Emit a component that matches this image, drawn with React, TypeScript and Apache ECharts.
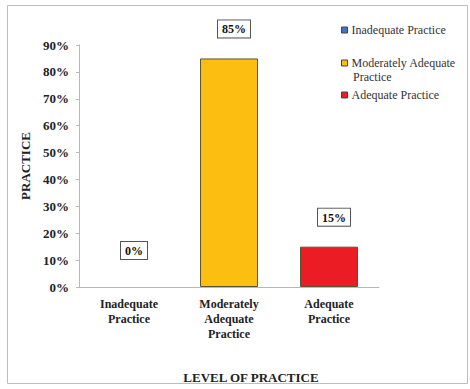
import React, { useEffect, useRef } from "react";
import * as echarts from "echarts";

const categories = ["Inadequate\nPractice", "Moderately\nAdequate\nPractice", "Adequate\nPractice"];
const seriesNames = ["Inadequate Practice", "Moderately Adequate Practice", "Adequate Practice"];
const inadequate = [0, "-", "-"];
const moderate = ["-", 85, "-"];
const adequate = ["-", "-", 15];
const colors = ["#4472C4", "#FDBE12", "#EC1C24"];
const yTicks = { min: 0, max: 90, interval: 10 };

const FONT = "Liberation Serif";

export default function App() {
  const ref = useRef<HTMLDivElement>(null);
  useEffect(() => {
    if (!ref.current) return;
    const chart = echarts.init(ref.current, null, { renderer: "svg" });
    const label = (distance: number) => ({
      show: true,
      position: "top",
      distance,
      offset: [5, 0],
      formatter: "{c}%",
      fontFamily: FONT,
      fontWeight: "bold",
      fontSize: 12,
      color: "#111",
      backgroundColor: "#fff",
      borderColor: "#555",
      borderWidth: 1,
      padding: [3, 4, 2, 4],
    });
    const datasets = [inadequate, moderate, adequate];
    const series = datasets.map((d, i) => ({
      name: seriesNames[i],
      type: "bar",
      stack: "all",
      barWidth: 58,
      data: d,
      itemStyle: { color: colors[i], borderColor: "#5b5433", borderWidth: i === 0 ? 0 : 1 },
      label: label(i === 0 ? 28 : 21),
    }));
    const legendTops = [24, 57, 89];
    chart.setOption({
      animation: false,
      backgroundColor: "#fff",
      grid: { left: 79, right: 91, top: 45, bottom: 99 },
      legend: seriesNames.map((n, i) => ({
        data: [n],
        orient: "vertical",
        left: 341,
        top: legendTops[i],
        padding: 0,
        itemWidth: 6,
        itemHeight: 6,
        icon: "rect",
        itemStyle: { borderColor: "#444", borderWidth: 1 },
        selectedMode: false,
        formatter: (name: string) => (name === "Moderately Adequate Practice" ? "Moderately Adequate" : name),
        textStyle: { fontFamily: FONT, fontSize: 12, color: "#333", padding: [0, 0, 0, -1] },
      })),
      xAxis: {
        type: "category",
        data: categories,
        name: "LEVEL OF PRACTICE",
        nameLocation: "middle",
        nameGap: 84,
        nameTextStyle: {
          fontFamily: FONT,
          fontWeight: "bold",
          fontSize: 13,
          color: "#222",
          padding: [0, 0, 0, 44],
        },
        axisLine: { lineStyle: { color: "#b8b8b8" } },
        axisTick: { show: false },
        axisLabel: {
          interval: 0,
          margin: 9,
          fontFamily: FONT,
          fontWeight: "bold",
          fontSize: 12,
          lineHeight: 15,
          color: "#222",
        },
      },
      yAxis: {
        type: "value",
        min: yTicks.min,
        max: yTicks.max,
        interval: yTicks.interval,
        name: "PRACTICE",
        nameLocation: "middle",
        nameRotate: 90,
        nameGap: 46,
        nameTextStyle: { fontFamily: FONT, fontWeight: "bold", fontSize: 13, color: "#222" },
        axisLine: { show: true, lineStyle: { color: "#b8b8b8" } },
        axisTick: { show: true, length: 3, lineStyle: { color: "#b8b8b8" } },
        splitLine: { show: false },
        axisLabel: {
          formatter: "{value}%",
          margin: 10,
          fontFamily: FONT,
          fontWeight: "bold",
          fontSize: 13,
          color: "#222",
        },
      },
      graphic: [
        {
          type: "rect",
          shape: { x: 7.5, y: 5.5, width: 460, height: 378 },
          style: { fill: "none", stroke: "#bdbdbd", lineWidth: 1 },
          silent: true,
        },
        {
          type: "text",
          x: 353,
          y: 77,
          style: {
            text: "Practice",
            fontFamily: FONT,
            fontSize: 12,
            fill: "#333",
            verticalAlign: "middle",
          },
        },
      ],
      series,
    });
    return () => chart.dispose();
  }, []);
  return (
    <div
      ref={ref}
      style={{ position: "absolute", left: 0, top: 0, width: 470, height: 389 }}
    />
  );
}
